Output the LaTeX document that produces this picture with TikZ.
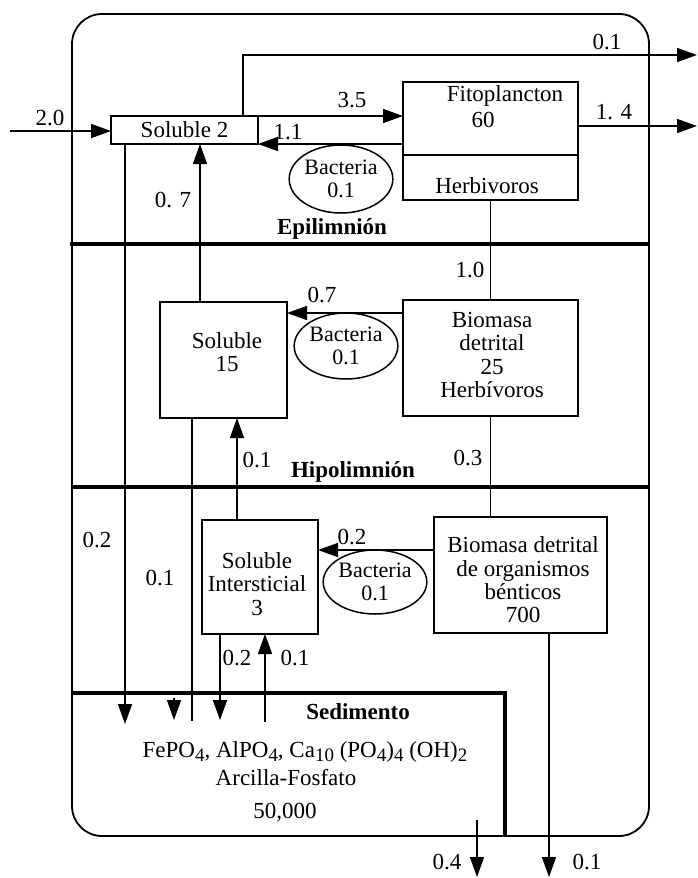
\documentclass[tikz,border=0pt]{standalone}
\usepackage{fontspec}
\setmainfont{Liberation Serif}
\usetikzlibrary{arrows.meta,shapes.geometric}
\newcommand{\lowd}[1]{\raisebox{-0.35ex}{\fontsize{19}{19}\selectfont #1}}
\begin{document}
\begin{tikzpicture}[x=1pt,y=-1pt,
  every node/.style={font=\fontsize{23}{23.3}\selectfont, inner sep=0pt, outer sep=0pt},
  box/.style={draw, line width=1.6pt, rectangle},
  bac/.style={draw, line width=1.5pt, ellipse, align=center, font=\fontsize{22}{23.5}\selectfont},
  flow/.style={line width=1.6pt},
  arr/.style={flow, -{Triangle[length=20pt,width=14pt]}},
  zone/.style={line width=4.2pt},
  zonetxt/.style={font=\fontsize{23}{23}\selectfont\bfseries}
]
\useasboundingbox (0,0) rectangle (698,878);

% outer rounded frame
\draw[line width=1.8pt, rounded corners=30pt] (72,14) rectangle (649,836);

% zone lines
\draw[zone] (70,244) -- (650,244);
\draw[zone] (72,487) -- (650,487);
\draw[zone] (72,693) -- (505,693) -- (505,836);

% boxes
\node[box, minimum width=147pt, minimum height=28pt] (sol2) at (184.5,130) {Soluble 2};

\node[box, minimum width=175pt, minimum height=118pt] (fito) at (490.5,141) {};
\coordinate (div) at (0,155);
\draw[line width=1.5pt] (fito.west |- div) -- (fito.east |- div);
\node (fitot) at (505,96) {Fitoplancton};
\node (fiton) at (483,120) {60};
\node (herb) at (487,186) {Herbivoros};

\node[box, minimum width=175pt, minimum height=116pt] (bio) at (490.5,358) {};
\node[align=center] (biot) at (492,355) {Biomasa\\detrital\\25\\Herbívoros};

\node[box, minimum width=127pt, minimum height=116pt] (sol15) at (223.5,360) {};
\node[align=center] (sol15t) at (227,352) {Soluble\\15};

\node[box, minimum width=116pt, minimum height=114pt] (solint) at (260,577) {};
\node[align=center] (solintt) at (257,584) {Soluble\\Intersticial\\3};

\node[box, minimum width=173pt, minimum height=116pt] (bent) at (520.5,575) {};
\node[align=center] (bentt) at (523,580) {Biomasa detrital\\de organismos\\bénticos\\700};

% bacteria
\node[bac, minimum width=102pt, minimum height=68pt] (bac1) at (341,179) {Bacteria\\0.1};
\node[bac, minimum width=103pt, minimum height=66pt] (bac2) at (346,346) {Bacteria\\0.1};
\node[bac, minimum width=103pt, minimum height=64pt] (bac3) at (375,582) {Bacteria\\0.1};

% coordinates for free ends
\coordinate (in20) at (10,131);
\coordinate (out01) at (697,55);
\coordinate (out14) at (697,126);
\coordinate (sedA) at (125,724);
\coordinate (sedB) at (192,721);
\coordinate (sedC0) at (174,698);
\coordinate (sedC) at (174,720);
\coordinate (sedD) at (220,720);
\coordinate (sedE) at (265,722);
\coordinate (outB) at (549,877);
\coordinate (o4a) at (477,820);
\coordinate (o4b) at (477,877);

% connectors
\draw[arr] (in20) -- (in20 -| sol2.west);
\draw[arr] ([xshift=132pt]sol2.north west) |- (out01);
\draw[arr] (sol2.north east) -- (sol2.north east -| fito.west);
\draw[arr] (sol2.south east -| fito.west) -- (sol2.south east);
\draw[arr] (fito.east |- out14) -- (out14);
\draw[flow] (fito.south) -- (bio.north);
\draw[arr] ([yshift=45pt]bio.west) -- ([yshift=45pt]bio.west -| sol15.east);
\draw[arr] ([xshift=-23.5pt]sol15.north) -- ([xshift=-23.5pt]sol15.north |- sol2.south);
\draw[arr] (sol2.south -| sedA) -- (sedA);
\draw[flow] (sol15.south -| sedB) -- (sedB);
\draw[arr] (sedC0) -- (sedC);
\draw[arr] ([xshift=-23pt]solint.north) -- ([xshift=-23pt]solint.north |- sol15.south);
\draw[arr] ([yshift=25pt]bent.west) -- ([yshift=25pt]bent.west -| solint.east);
\draw[flow] (bio.south) -- (bio.south |- bent.north);
\draw[arr] (solint.south -| sedD) -- (sedD);
\draw[arr] (sedE) -- (solint.south -| sedE);
\draw[arr] (bent.south -| outB) -- (outB);
\draw[arr] (o4a) -- (o4b);

% labels
\node (l20) at (50,118) {2.0};
\node (l01a) at (607,42) {0.1};
\node (l35) at (352,100) {3.5};
\node (l11) at (288,132) {1.1};
\node (l14) at (614,112) {1. 4};
\node (l07a) at (173,200) {0. 7};
\node (l10) at (470,270) {1.0};
\node (l07b) at (322,295) {0.7};
\node (l01b) at (257,460) {0.1};
\node (l03) at (468,458) {0.3};
\node (l02a) at (97,540) {0.2};
\node (l01c) at (160,578) {0.1};
\node (l02b) at (352,537) {0.2};
\node (l02c) at (237,658) {0.2};
\node (l01d) at (295,658) {0.1};
\node (l04) at (447,862) {0.4};
\node (l01e) at (587,862) {0.1};

\node[zonetxt] (epi) at (332,229) {Epilimnión};
\node[zonetxt] (hipo) at (353,472) {Hipolimnión};
\node[zonetxt] (sed) at (358,712) {Sedimento};

\node (sedt1) at (305,752) {FePO\lowd{4}, AlPO\lowd{4}, Ca\lowd{10} (PO\lowd{4})\lowd{4} (OH)\lowd{2}};
\node (sedt2) at (286,778) {Arcilla-Fosfato};
\node (sedt3) at (285,813) {50,000};
\end{tikzpicture}
\end{document}
